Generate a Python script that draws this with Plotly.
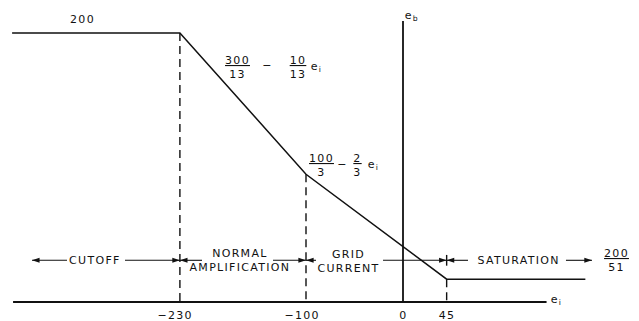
import plotly.graph_objects as go

# ---- data ----
ei_points = [-403, -230, -100, 45, 188]      # e_i at the ends / break points of the curve
eb_points = [200, 200, 95, 17, 17]           # e_b at those points (schematic levels)
break_ticks = [-230, -100, 0, 45]
tick_labels = ["−230", "−100", "0", "45"]
top_level_label = "200"
region_labels = ["CUTOFF", "NORMAL<br>AMPLIFICATION", "GRID<br>CURRENT", "SATURATION"]
formula_1 = ["<u>300</u><br>13", "−", "<u>10</u><br>13", "e<sub>i</sub>"]
formula_2 = ["<u>100</u><br>3", "−", "<u>2</u><br>3", "e<sub>i</sub>"]
saturation_label = "<u>200</u><br>51"

INK = "#111111"
FONT = dict(family="DejaVu Sans", size=11, color=INK)

fig = go.Figure()

# main characteristic
fig.add_trace(go.Scatter(x=ei_points, y=eb_points, mode="lines",
                         line=dict(color=INK, width=1.5), hoverinfo="skip"))

# dashed drop lines from the break points to the e_i axis
dx, dy = [], []
for i in range(1, 4):
    dx += [ei_points[i], ei_points[i], None]
    dy += [eb_points[i], 0, None]
fig.add_trace(go.Scatter(x=dx, y=dy, mode="lines",
                         line=dict(color=INK, width=1.4, dash="8px,5px"), hoverinfo="skip"))

# axes
fig.add_shape(type="line", x0=-402, x1=148, y0=0, y1=0, xref="x", yref="y",
              line=dict(color=INK, width=1.8))
fig.add_shape(type="line", x0=0, x1=0, y0=0, y1=209, xref="x", yref="y",
              line=dict(color=INK, width=1.8))
arrow_y = 31
# small marker at the saturation boundary in the arrow row
fig.add_shape(type="line", x0=break_ticks[3], x1=break_ticks[3], y0=27, y1=35,
              xref="x", yref="y", line=dict(color=INK, width=1.4))

# region arrows (head, tail)
arrows = [(-382.5, -346.4), (break_ticks[0], -286.6), (break_ticks[0], -207.2),
          (break_ticks[1], -134), (break_ticks[1], -89.7), (break_ticks[3], -20.6),
          (break_ticks[3], 67), (194.8, 168)]
lx, ly = [], []
hx, hy, ang = [], [], []
for head, tail in arrows:
    lx += [tail, head, None]
    ly += [arrow_y, arrow_y, None]
    hx.append(head)
    hy.append(arrow_y)
    ang.append(90 if head > tail else -90)
fig.add_trace(go.Scatter(x=lx, y=ly, mode="lines", line=dict(color=INK, width=1.1),
                         hoverinfo="skip"))
fig.add_trace(go.Scatter(x=hx, y=hy, mode="markers", hoverinfo="skip",
                         marker=dict(symbol="arrow", size=8, angle=ang, color=INK,
                                     line=dict(width=0))))

ann = []
def text(x, y, t, **kw):
    d = dict(x=x, y=y, xref="x", yref="y", text=t, showarrow=False,
             font=FONT, xanchor="center", yanchor="middle")
    d.update(kw)
    ann.append(d)

# tick labels (digits centred on the tick)
for v, lab in zip(break_ticks, tick_labels):
    text(v, -9.7, lab, xshift=-4.5 if lab.startswith("−") else 0)

# axis names
text(158, 1.5, "e<sub>i</sub>")
text(9.5, 213, "e<sub>b</sub>")

# level label
text(-330, 209.7, top_level_label)

# formulas
for x, t in zip([-171, -140, -108.2, -89], formula_1):
    text(x, 174.7 if t != "−" else 175.5, t)
for x, t in zip([-84.5, -62.5, -47, -30.5], formula_2):
    text(x, 101.5 if t != "−" else 102, t)
text(219.6, 31.2, saturation_label)

# region labels
text(-317.5, arrow_y, region_labels[0])
text(-168, 30.5, region_labels[1])
text(-55.7, 30.1, region_labels[2])
text(118.6, arrow_y, region_labels[3])

fig.update_layout(
    width=639, height=321,
    margin=dict(l=0, r=0, t=0, b=0),
    paper_bgcolor="white", plot_bgcolor="white",
    showlegend=False,
    xaxis=dict(visible=False, range=[-415.46, 243.3]),
    yaxis=dict(visible=False, range=[-14.13, 224.54]),
    annotations=ann,
)

post = ("document.body.style.margin='0';"
        "document.querySelectorAll('.annotation-text').forEach(function(t){"
        "t.style.letterSpacing='1.3px';});")
fig.write_html("out.html", post_script=post,
               config={"displayModeBar": False, "staticPlot": True})
